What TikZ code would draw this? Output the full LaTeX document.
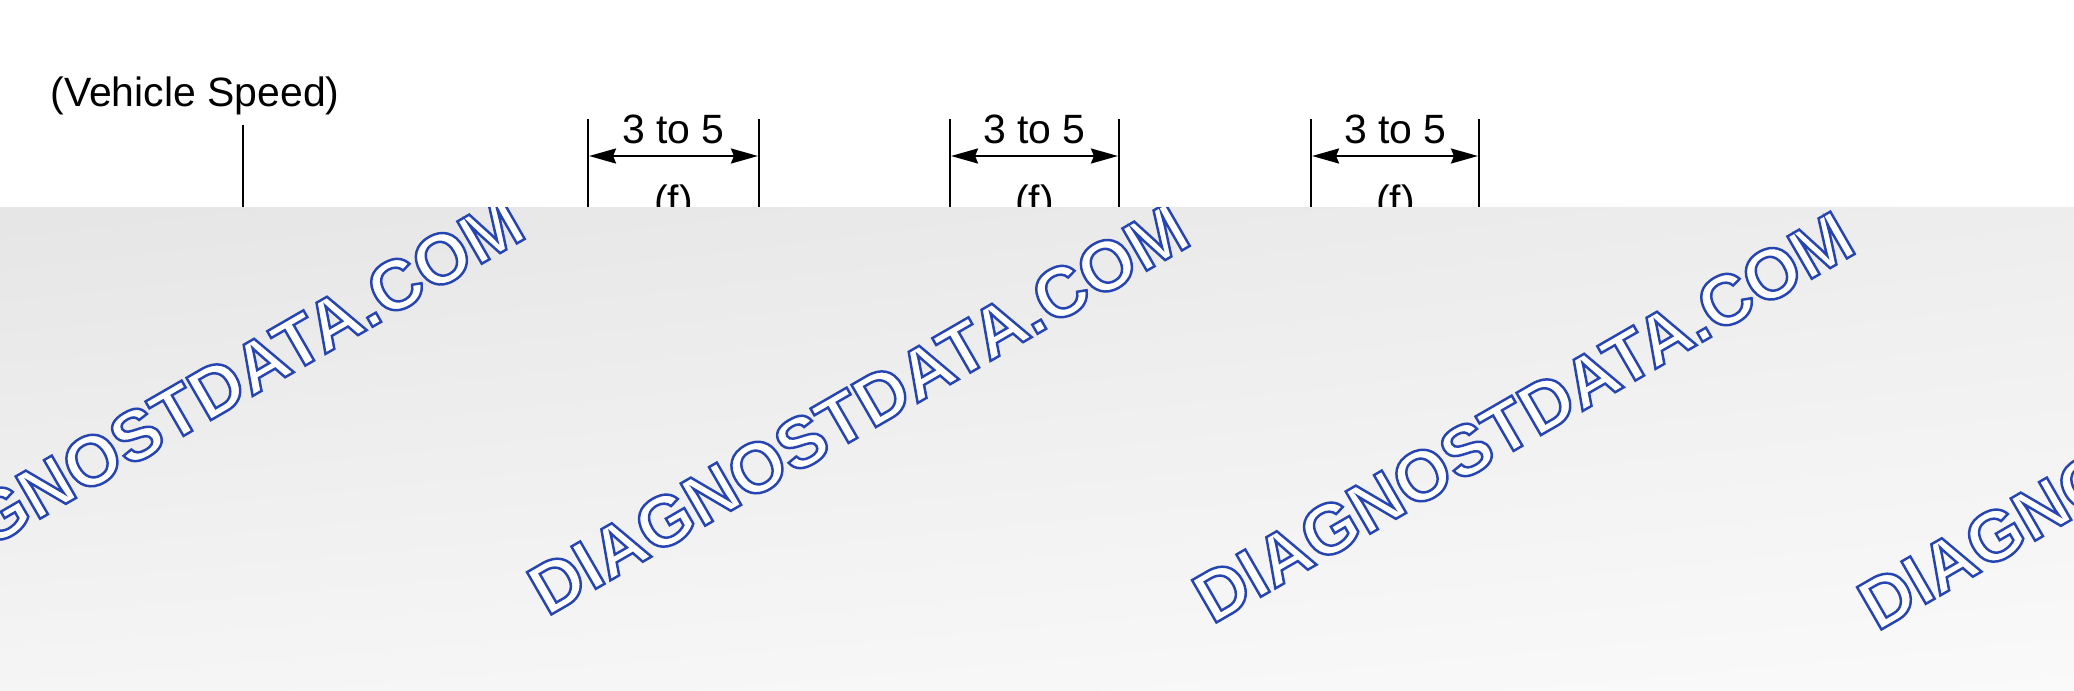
\documentclass[tikz,border=0pt]{standalone}
\usepackage{fontspec}
\setmainfont{Liberation Sans}
\newfontfamily\wmfont{Liberation Sans Bold}
\usetikzlibrary{arrows.meta,shadings}

\newcommand{\outlined}[1]{\special{pdf:literal direct 0.15 0.27 0.70 RG 2 Tr 1.4 w}#1\special{pdf:literal direct 0 Tr}}

\begin{document}
\begin{tikzpicture}[x=0.02cm,y=-0.02cm,node distance=7.22cm,
    >={Stealth[length=0.54cm,width=0.3cm,inset=0.06cm]},
    lbl/.style={inner sep=0pt,anchor=base,font=\fontsize{23.3}{28}\selectfont},
    extline/.style={line width=1.5pt},
    dimline/.style={line width=1.3pt,<->,shorten <=0.6pt,shorten >=0.6pt},
    watermark/.style={inner sep=0pt,anchor=base west,rotate=30,text=white,
      font=\wmfont\fontsize{40.4}{48}\selectfont}]
    \useasboundingbox (0,0) rectangle (2074,690);
    \fill[white] (0,0) rectangle (2074,690);

    % labels
    \node[lbl] (vs) at (195,106) {(Vehicle Speed)};
    \node[lbl] (t1) at (673.5,143) {3 to 5};
    \node[lbl] (t2) [right of=t1] {3 to 5};
    \node[lbl] (t3) [right of=t2] {3 to 5};
    \node[lbl] (f1) at (673.5,214) {(f)};
    \node[lbl] (f2) [right of=f1] {(f)};
    \node[lbl] (f3) [right of=f2] {(f)};

    % dimension lines
    \coordinate (top) at (0,119);
    \coordinate (bot) at (0,230);
    \coordinate (vstop) at (243,125);
    \coordinate (l1) at (588,156);
    \coordinate (r1) at (759,156);
    \coordinate (l2) at (950,156);
    \coordinate (r2) at (1119,156);
    \coordinate (l3) at (1311,156);
    \coordinate (r3) at (1479,156);

    \draw[extline] (vstop) -- (vstop |- bot);
    \draw[extline] (l1 |- top) -- (l1 |- bot);
    \draw[extline] (r1 |- top) -- (r1 |- bot);
    \draw[extline] (l2 |- top) -- (l2 |- bot);
    \draw[extline] (r2 |- top) -- (r2 |- bot);
    \draw[extline] (l3 |- top) -- (l3 |- bot);
    \draw[extline] (r3 |- top) -- (r3 |- bot);
    \draw[dimline] (l1) -- (r1);
    \draw[dimline] (l2) -- (r2);
    \draw[dimline] (l3) -- (r3);

    % grey cover with watermark
    \shade[upper left=black!10,upper right=black!7,lower left=black!4,lower right=black!2]
      (0,207) rectangle (2074,690);
    \begin{scope}
        \clip (0,207) rectangle (2074,690);
        \node[watermark] (wm1) at (-118,610) {\outlined{DIAGNOSTDATA.COM}};
        \node[watermark] (wm2) at (547,617) {\outlined{DIAGNOSTDATA.COM}};
        \node[watermark] (wm3) at (1212,625) {\outlined{DIAGNOSTDATA.COM}};
        \node[watermark] (wm4) at (1877,632) {\outlined{DIAGNOSTDATA.COM}};
    \end{scope}
\end{tikzpicture}
\end{document}
